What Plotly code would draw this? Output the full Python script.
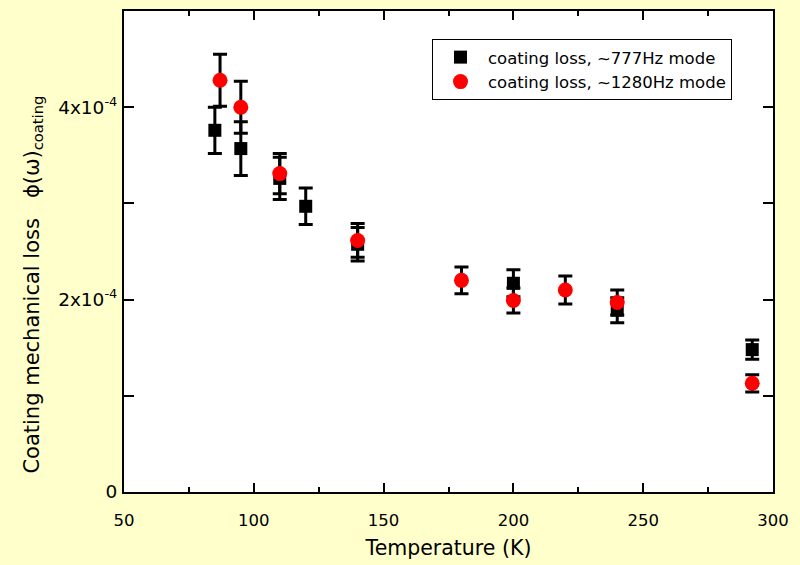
import plotly.graph_objects as go

# Data (Temperature K, loss in units of 1)
t_777 = [85, 95, 110, 120, 140, 200, 240, 292]
phi_777 = [3.76e-4, 3.57e-4, 3.26e-4, 2.97e-4, 2.575e-4, 2.17e-4, 1.89e-4, 1.48e-4]
err_777 = [0.24e-4, 0.28e-4, 0.22e-4, 0.19e-4, 0.175e-4, 0.14e-4, 0.13e-4, 0.10e-4]

t_1280 = [87, 95, 110, 140, 180, 200, 220, 240, 292]
phi_1280 = [4.28e-4, 4.00e-4, 3.31e-4, 2.615e-4, 2.20e-4, 1.99e-4, 2.10e-4, 1.97e-4, 1.13e-4]
err_1280 = [0.27e-4, 0.27e-4, 0.21e-4, 0.175e-4, 0.14e-4, 0.13e-4, 0.145e-4, 0.13e-4, 0.09e-4]

y_tickvals = [0, 2e-4, 4e-4]
y_ticktext = ["0", "2x10<sup>-4</sup>", "4x10<sup>-4</sup>"]
y_minorvals = [1e-4, 3e-4]
x_tickvals = [50, 100, 150, 200, 250, 300]
x_minorvals = [75, 125, 175, 225, 275]

FONT = "DejaVu Sans, Arial, sans-serif"

fig = go.Figure()
fig.add_trace(go.Scatter(
    x=t_777, y=phi_777, mode="markers", name="coating loss, ~777Hz mode",
    marker=dict(symbol="square", size=13, color="black"),
    error_y=dict(type="data", array=err_777, color="black", thickness=3, width=7),
))
fig.add_trace(go.Scatter(
    x=t_1280, y=phi_1280, mode="markers", name="coating loss, ~1280Hz mode",
    marker=dict(symbol="circle", size=15, color="#FF0000"),
    error_y=dict(type="data", array=err_1280, color="black", thickness=3, width=7),
))

fig.update_layout(
    width=800, height=565,
    margin=dict(l=124, r=27, t=9, b=71),
    paper_bgcolor="#FFFFCC",
    plot_bgcolor="white",
    font=dict(family=FONT, color="black", size=16),
    showlegend=True,
    legend=dict(
        x=0.4746, y=0.942, xanchor="left", yanchor="top",
        bgcolor="white", bordercolor="black", borderwidth=1,
        font=dict(size=16.5, family=FONT),
        itemwidth=45,
        tracegroupgap=0,
    ),
)

fig.add_annotation(
    text="Coating mechanical loss   \u03d5(\u03c9)<sub>coating</sub>",
    xref="paper", yref="paper", x=-0.140, y=0.4315,
    xanchor="center", yanchor="middle", textangle=-90, showarrow=False,
    font=dict(size=21, family=FONT, color="black"),
)

fig.update_xaxes(
    range=[50, 300], tickmode="array", tickvals=x_tickvals,
    showline=True, linecolor="black", linewidth=2, mirror="ticks",
    ticks="inside", ticklen=9, tickwidth=2, tickcolor="black",
    minor=dict(ticks="inside", tickmode="array", tickvals=x_minorvals,
               ticklen=5, tickwidth=2, tickcolor="black"),
    showgrid=False, zeroline=False,
    ticklabelstandoff=12,
    tickfont=dict(size=16.5, family=FONT),
    title=dict(text="Temperature (K)", font=dict(size=20.5, family=FONT), standoff=12),
)
fig.update_yaxes(
    range=[0, 5e-4], tickmode="array", tickvals=y_tickvals, ticktext=y_ticktext,
    showline=True, linecolor="black", linewidth=2, mirror="ticks",
    ticks="inside", ticklen=10, tickwidth=2, tickcolor="black",
    minor=dict(ticks="inside", tickmode="array", tickvals=y_minorvals,
               ticklen=10, tickwidth=2, tickcolor="black"),
    showgrid=False, zeroline=False,
    ticklabelstandoff=1,
    tickfont=dict(size=18.5, family=FONT),
)

fig.write_html("out.html")
